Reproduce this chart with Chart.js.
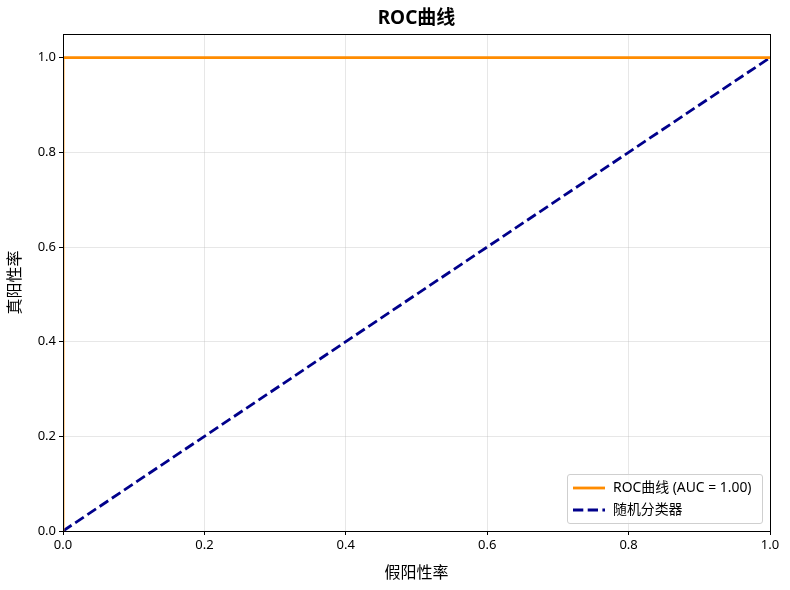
<!DOCTYPE html>
<html>
<head>
<meta charset="utf-8">
<script src="https://cdn.jsdelivr.net/npm/chart.js@4"></script>
<style>
html,body{margin:0;padding:0;background:#fff;}
#wrap{position:relative;width:790px;height:590px;}
#legend{position:absolute;left:567px;top:474px;width:194px;height:48px;border:1px solid #cfcfcf;border-radius:3px;background:rgba(255,255,255,0.8);font-family:"Noto Sans","Noto Sans CJK SC",sans-serif;font-size:13.9px;color:#000;}
.row{position:absolute;left:4px;height:18px;line-height:18px;}
.row svg{position:absolute;left:0;top:0;}
.row span{position:absolute;left:41px;top:-1px;white-space:nowrap;}
</style>
</head>
<body>
<div id="wrap">
<canvas id="c" width="790" height="590"></canvas>
<div id="legend">
  <div class="row" style="top:4px;"><svg width="34" height="18"><line x1="1" y1="9" x2="33" y2="9" stroke="#ff8c00" stroke-width="2.8"/></svg><span id="l0"></span></div>
  <div class="row" style="top:26px;"><svg width="34" height="18"><line x1="1" y1="9" x2="33" y2="9" stroke="#00008b" stroke-width="2.8" stroke-dasharray="10.3,4.4"/></svg><span id="l1"></span></div>
</div>
</div>
<script>
const titleText = "ROC曲线";
const xLabel = "假阳性率";
const yLabel = "真阳性率";
const rocName = "ROC曲线 (AUC = 1.00)";
const randName = "随机分类器";
const rocFpr = [0, 0, 1];
const rocTpr = [0, 1, 1];
const randX = [0, 1];
const randY = [0, 1];
const xTicks = [0, 0.2, 0.4, 0.6, 0.8, 1.0];
const yTicks = [0, 0.2, 0.4, 0.6, 0.8, 1.0];

document.getElementById('l0').textContent = rocName;
document.getElementById('l1').textContent = randName;

const FONT = '"Noto Sans", "Noto Sans CJK SC", sans-serif';
const gridColor = 'rgba(176,176,176,0.3)';

const frame = {
  id: 'frame',
  afterDatasetsDraw(chart) {
    const {ctx, chartArea: a} = chart;
    ctx.save();
    ctx.strokeStyle = '#000';
    ctx.lineWidth = 1;
    ctx.strokeRect(Math.round(a.left) + 0.5, Math.round(a.top) + 0.5, Math.round(a.right - a.left), Math.round(a.bottom - a.top));
    ctx.restore();
  }
};

new Chart(document.getElementById('c'), {
  type: 'scatter',
  data: {
    datasets: [
      {
        label: rocName,
        data: rocFpr.map((v, i) => ({x: v, y: rocTpr[i]})),
        showLine: true,
        borderColor: '#ff8c00',
        backgroundColor: '#ff8c00',
        borderWidth: 2.8,
        pointRadius: 0,
        tension: 0
      },
      {
        label: randName,
        data: randX.map((v, i) => ({x: v, y: randY[i]})),
        showLine: true,
        borderColor: '#00008b',
        backgroundColor: '#00008b',
        borderWidth: 2.8,
        borderDash: [10.3, 4.4],
        pointRadius: 0,
        tension: 0
      }
    ]
  },
  options: {
    responsive: false,
    devicePixelRatio: 1,
    animation: false,
    layout: {padding: {left: 0, right: 20, top: 0, bottom: 0}},
    plugins: {
      legend: {display: false},
      tooltip: {enabled: false},
      title: {
        display: true,
        fullSize: false,
        text: titleText,
        color: '#000',
        font: {family: FONT, size: 19, weight: 'bold', lineHeight: 1.2},
        padding: {top: 7, bottom: 4.2}
      }
    },
    scales: {
      x: {
        type: 'linear',
        min: 0, max: 1,
        afterBuildTicks: s => { s.ticks = xTicks.map(v => ({value: v})); },
        afterFit: s => { s.height = 59; },
        ticks: {
          color: '#000',
          font: {family: FONT, size: 13},
          padding: 2,
          maxRotation: 0,
          callback: v => Number(v).toFixed(1)
        },
        grid: {color: gridColor, tickColor: '#000', tickLength: 4, lineWidth: 1},
        border: {display: true, color: '#000'},
        title: {
          display: true,
          text: xLabel,
          color: '#000',
          font: {family: FONT, size: 16, lineHeight: 1.2},
          padding: {top: 0, bottom: 7}
        }
      },
      y: {
        type: 'linear',
        min: 0, max: 1.05,
        afterBuildTicks: s => { s.ticks = yTicks.map(v => ({value: v})); },
        afterFit: s => { s.width = 63; },
        ticks: {
          color: '#000',
          font: {family: FONT, size: 13},
          padding: 3,
          callback: v => Number(v).toFixed(1)
        },
        grid: {color: gridColor, tickColor: '#000', tickLength: 4, lineWidth: 1},
        border: {display: true, color: '#000'},
        title: {
          display: true,
          text: yLabel,
          color: '#000',
          font: {family: FONT, size: 16, lineHeight: 1.2},
          padding: {top: 6, bottom: 0}
        }
      }
    }
  },
  plugins: [frame]
});
</script>
</body>
</html>
